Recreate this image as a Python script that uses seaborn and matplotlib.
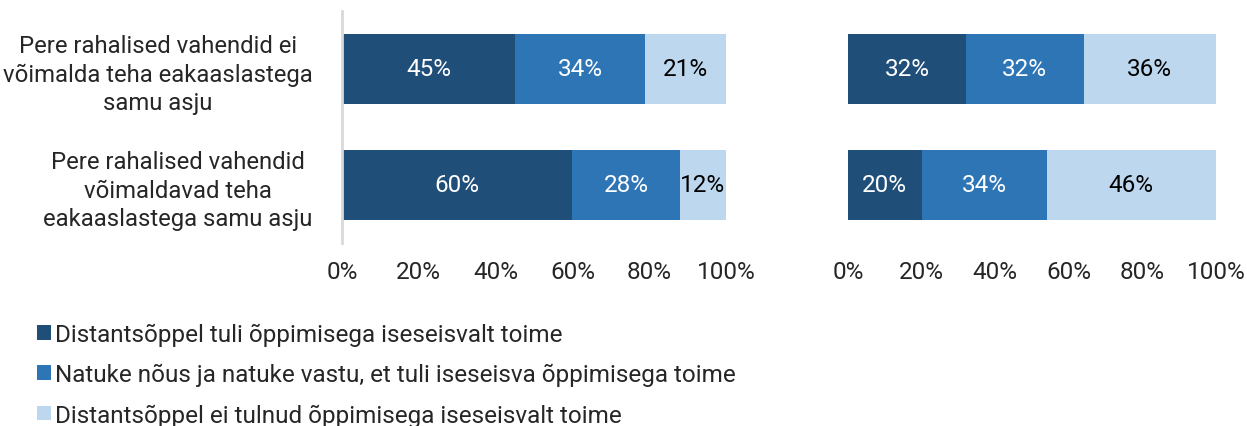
import pandas as pd
import numpy as np
import seaborn as sns
import matplotlib.pyplot as plt
from matplotlib.patches import Patch

# data
groups = ['Pere rahalised vahendid ei\nvõimalda teha eakaaslastega\nsamu asju',
          'Pere rahalised vahendid\nvõimaldavad teha\neakaaslastega samu asju']
series = ['Distantsõppel tuli õppimisega iseseisvalt toime',
          'Natuke nõus ja natuke vastu, et tuli iseseisva õppimisega toime',
          'Distantsõppel ei tulnud õppimisega iseseisvalt toime']
left_vals = [[45, 60], [34, 28], [21, 12]]
right_vals = [[32, 20], [32, 34], [36, 46]]
colors = ['#1F4E79', '#2E75B6', '#BDD7EE']
text_colors = ['white', 'white', 'black']
ticks = [0, 20, 40, 60, 80, 100]

sns.set_style('white')
plt.rcParams['font.family'] = ['Roboto', 'DejaVu Sans']

fig = plt.figure(figsize=(12.47, 4.27), dpi=100)
axL = fig.add_axes([342/1247, 1-244/427, 384/1247, 232/427])
axR = fig.add_axes([848/1247, 1-244/427, 368/1247, 232/427])


def draw(ax, vals):
    arr = np.array(vals, dtype=float)
    cum = np.cumsum(arr, axis=0)
    # back to front so each stacked piece shows
    for i in range(len(series) - 1, -1, -1):
        df = pd.DataFrame({'grp': groups, 'val': cum[i]})
        sns.barplot(data=df, x='val', y='grp', orient='h', color=colors[i],
                    saturation=1, width=0.6, linewidth=0, ax=ax)
    for i in range(len(series)):
        for j in range(len(groups)):
            ax.text(cum[i][j] - arr[i][j] / 2, j, f'{int(arr[i][j])}%',
                    ha='center', va='center', fontsize=17.5, color=text_colors[i])
    ax.set_xlim(0, 100)
    ax.set_ylim(1.5, -0.5)
    ax.set_xticks(ticks)
    ax.set_xticklabels([f'{t}%' for t in ticks], fontsize=17.5)
    ax.tick_params(axis='x', length=0, pad=12)
    ax.set_xlabel('')
    ax.set_ylabel('')
    for s in ['top', 'right', 'bottom', 'left']:
        ax.spines[s].set_visible(False)


draw(axL, left_vals)
draw(axR, right_vals)

axL.spines['left'].set_visible(True)
axL.spines['left'].set_color('#D9D9D9')
axL.spines['left'].set_linewidth(2)
axL.set_yticks(range(len(groups)))
axL.set_yticklabels(groups, fontsize=17.2, multialignment='center', linespacing=1.3)
axL.tick_params(axis='y', length=0, pad=21)
axR.set_yticks([])

handles = [Patch(facecolor=c, edgecolor='none') for c in colors]
fig.legend(handles, series, loc='upper left', bbox_to_anchor=(0.022, 0.264),
           frameon=False, fontsize=17.5, handlelength=0.55, handleheight=0.55,
           handletextpad=0.2, labelspacing=0.7, borderaxespad=0)

fig.savefig('out.png', dpi=100)
